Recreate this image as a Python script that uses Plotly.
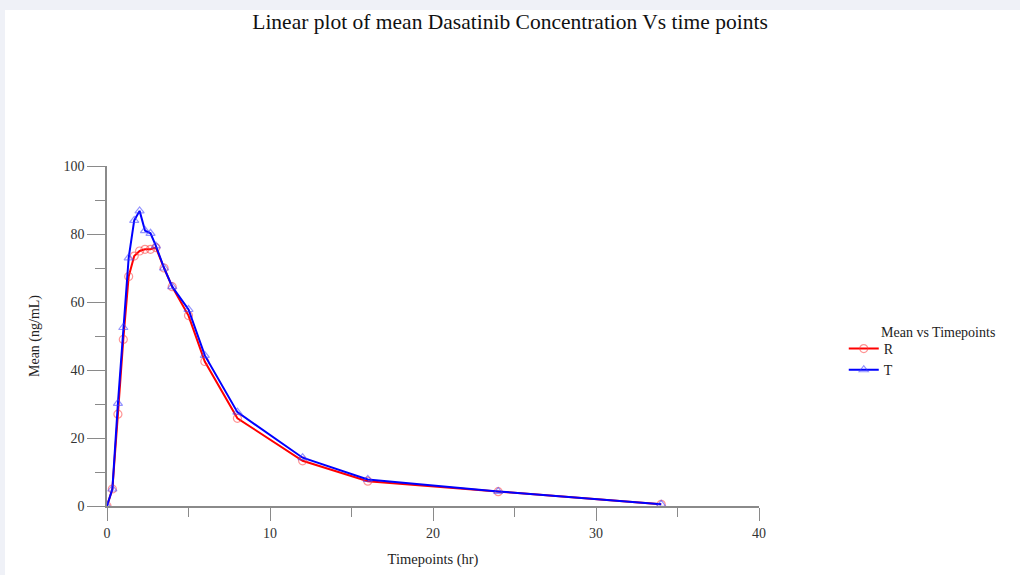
import plotly.graph_objects as go

# Data
time_hr = [0, 0.33, 0.67, 1, 1.33, 1.67, 2, 2.33, 2.67, 3, 3.5, 4, 5, 6, 8, 12, 16, 24, 34]
mean_R = [0, 5.0, 27.0, 49.0, 67.5, 73.5, 75.0, 75.5, 75.5, 76.0, 70.0, 64.5, 56.0, 42.5, 25.8, 13.3, 7.3, 4.2, 0.5]
mean_T = [0, 5.0, 30.2, 52.5, 73.0, 84.0, 86.8, 81.0, 80.2, 76.5, 70.0, 64.5, 57.8, 44.3, 27.6, 14.2, 7.8, 4.3, 0.5]

x_ticks = [0, 10, 20, 30, 40]
y_ticks = [0, 20, 40, 60, 80, 100]

FONT = "Liberation Serif, Times New Roman, serif"

fig = go.Figure()
fig.add_trace(go.Scatter(
    x=time_hr, y=mean_R, name="R", mode="lines+markers",
    line=dict(color="#ff0000", width=2),
    marker=dict(symbol="circle-open", size=8, color="rgba(255,60,60,0.55)",
                line=dict(width=1.2)),
))
fig.add_trace(go.Scatter(
    x=time_hr, y=mean_T, name="T", mode="lines+markers",
    line=dict(color="#0000ff", width=2),
    marker=dict(symbol="triangle-up-open", size=8, color="rgba(60,60,255,0.55)",
                line=dict(width=1.2)),
))

axis_common = dict(
    showgrid=False, zeroline=False, showline=True, linecolor="#8a8a8a", linewidth=1.5,
    ticks="outside", tickwidth=1.2, tickcolor="#8a8a8a",
    tickfont=dict(family=FONT, size=14, color="#333333"),
    automargin=False,
)

fig.update_xaxes(
    range=[0, 40], tickvals=x_ticks, ticklen=13,
    minor=dict(ticks="outside", ticklen=9, tickcolor="#8a8a8a", dtick=5, tick0=0),
    title=dict(text="Timepoints (hr)", font=dict(family=FONT, size=14.5, color="#222222"), standoff=14),
    **axis_common,
)
fig.update_yaxes(
    range=[0, 100], tickvals=y_ticks, ticklen=18,
    minor=dict(ticks="outside", ticklen=10, tickcolor="#8a8a8a", dtick=10, tick0=0),
    title=dict(text="Mean (ng/mL)", font=dict(family=FONT, size=14, color="#222222"), standoff=21),
    **axis_common,
)

fig.update_layout(
    width=1020, height=575,
    margin=dict(l=107, r=261, t=166, b=69),
    paper_bgcolor="#eff1f7", plot_bgcolor="white",
    title=dict(text="Linear plot of mean Dasatinib Concentration Vs time points",
               font=dict(family=FONT, size=21.5, color="#111111"),
               x=0.5, xanchor="center", y=0.962, yanchor="middle"),
    font=dict(family=FONT),
    showlegend=True,
    legend=dict(x=1.13, xanchor="left", y=0.509, yanchor="top",
                font=dict(family=FONT, size=14, color="#222222"),
                bgcolor="rgba(0,0,0,0)", tracegroupgap=0, itemwidth=30),
    shapes=[dict(type="rect", xref="paper", yref="paper",
                 x0=-0.1564, x1=1.41, y0=-0.21, y1=1.4588,
                 fillcolor="white", line=dict(width=0), layer="below")],
    annotations=[dict(text="Mean vs Timepoints", xref="paper", yref="paper",
                      x=1.184, y=0.509, xanchor="left", yanchor="middle", showarrow=False,
                      font=dict(family=FONT, size=14, color="#222222"))],
)

fig.write_html("out.html")
